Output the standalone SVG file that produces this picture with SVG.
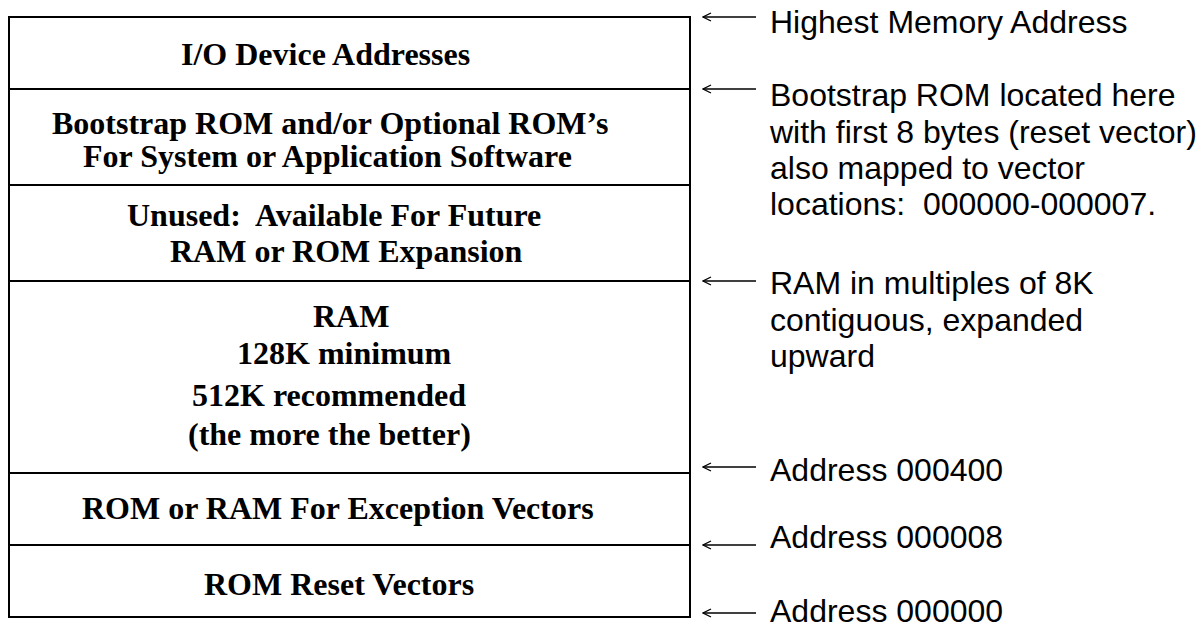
<svg xmlns="http://www.w3.org/2000/svg" width="1201" height="628" viewBox="0 0 1201 628">
<style>
.box{fill:none;stroke:#000;stroke-width:2}
.sep{stroke:#000;stroke-width:2}
.lt{font-family:"Liberation Serif","Times New Roman",serif;font-weight:bold;font-size:32px;fill:#000;white-space:pre}
.rt{font-family:"Liberation Sans",Arial,sans-serif;font-size:32px;fill:#000;white-space:pre}
.arr{stroke:#000;stroke-width:1.5;fill:none;marker-end:url(#open)}
</style>
<defs>
<marker id="open" markerUnits="userSpaceOnUse" markerWidth="12" markerHeight="12" viewBox="-11 -6 12 12" refX="0" refY="0" orient="auto">
<path d="M-8,-4 L0,0 L-8,4" fill="none" stroke="#000" stroke-width="1.3"/>
</marker>
</defs>
<rect width="1201" height="628" fill="#fff"/>
<g id="memory-map">
<rect class="box" x="9" y="17" width="681" height="600"/>
</g>
<g id="io">
<line class="sep" x1="9" y1="89" x2="690" y2="89"/>
<text class="lt" x="181" y="65">I/O Device Addresses</text>
</g>
<g id="bootstrap">
<line class="sep" x1="9" y1="185" x2="690" y2="185"/>
<text class="lt" x="52" y="134">Bootstrap ROM and/or Optional ROM’s</text>
<text class="lt" x="83" y="167">For System or Application Software</text>
</g>
<g id="unused">
<line class="sep" x1="9" y1="281" x2="690" y2="281"/>
<text class="lt" x="127" y="226">Unused:  Available For Future</text>
<text class="lt" x="170" y="262">RAM or ROM Expansion</text>
</g>
<g id="ram">
<line class="sep" x1="9" y1="473" x2="690" y2="473"/>
<text class="lt" x="313" y="327">RAM</text>
<text class="lt" x="237" y="364">128K minimum</text>
<text class="lt" x="192" y="406">512K recommended</text>
<text class="lt" x="188" y="445">(the more the better)</text>
</g>
<g id="exception">
<line class="sep" x1="9" y1="545" x2="690" y2="545"/>
<text class="lt" x="82" y="519">ROM or RAM For Exception Vectors</text>
</g>
<g id="reset">
<text class="lt" x="204" y="595">ROM Reset Vectors</text>
</g>
<g id="connectors">
<line class="arr" x1="756" y1="17" x2="703" y2="17"/>
<line class="arr" x1="756" y1="89" x2="703" y2="89"/>
<line class="arr" x1="756" y1="281" x2="703" y2="281"/>
<line class="arr" x1="756" y1="467" x2="703" y2="467"/>
<line class="arr" x1="756" y1="545" x2="703" y2="545"/>
<line class="arr" x1="756" y1="613" x2="703" y2="613"/>
</g>
<g id="labels">
<text class="rt" x="770" y="33">Highest Memory Address</text>
<text class="rt" x="770" y="106">Bootstrap ROM located here</text>
<text class="rt" x="770" y="143">with first 8 bytes (reset vector)</text>
<text class="rt" x="770" y="179">also mapped to vector</text>
<text class="rt" x="770" y="215">locations:  000000-000007.</text>
<text class="rt" x="770" y="294">RAM in multiples of 8K</text>
<text class="rt" x="770" y="331">contiguous, expanded</text>
<text class="rt" x="770" y="367">upward</text>
<text class="rt" x="770" y="481">Address 000400</text>
<text class="rt" x="770" y="548">Address 000008</text>
<text class="rt" x="770" y="622">Address 000000</text>
</g>
</svg>
